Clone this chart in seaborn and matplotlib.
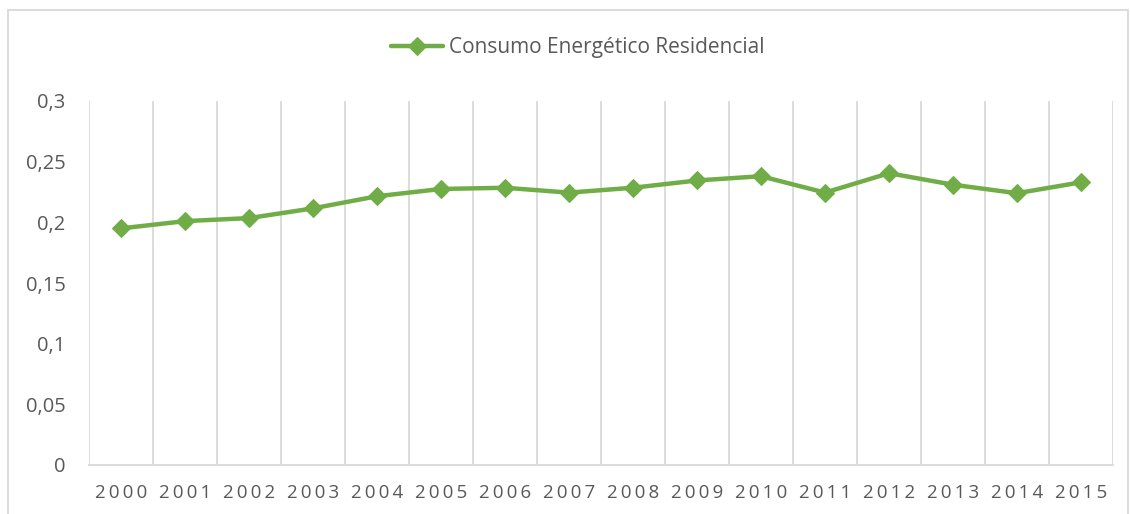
import matplotlib
matplotlib.use("Agg")
import matplotlib.pyplot as plt
from matplotlib.patches import Rectangle
from matplotlib.ticker import FixedLocator, FuncFormatter
import pandas as pd
import seaborn as sns

years = list(range(2000, 2016))
consumo = [0.195, 0.201, 0.2035, 0.2115, 0.2215, 0.2275, 0.2285, 0.2245,
           0.2285, 0.2345, 0.238, 0.2245, 0.2405, 0.231, 0.224, 0.233]
serie = "Consumo Energético Residencial"

df = pd.DataFrame({"Ano": years, "Valor": consumo})

sns.set_style("white")
plt.rcParams["font.family"] = ["Open Sans", "DejaVu Sans"]

verde = "#70AD47"
cinza_txt = "#595959"
cinza_lin = "#D9D9D9"

fig = plt.figure(figsize=(11.3, 5.14), dpi=100)
ax = fig.add_axes([89 / 1130, 1 - 465 / 514, 1024 / 1130, 364 / 514])

sns.lineplot(data=df, x="Ano", y="Valor", ax=ax, color=verde, linewidth=3.2,
             marker="D", markersize=9, markeredgecolor=verde, label=serie)

ax.set_xlim(years[0] - 0.5, years[-1] + 0.5)
ax.set_ylim(0, 0.3)
ax.set_xticks(years)
ax.set_xticklabels(["\u2009".join(str(y)) for y in years])
ax.xaxis.set_minor_locator(FixedLocator([y - 0.5 for y in years] + [years[-1] + 0.5]))
ax.grid(which="minor", axis="x", color=cinza_lin, linewidth=1.3)
ax.grid(which="major", axis="both", visible=False)
ax.set_yticks([0, 0.05, 0.1, 0.15, 0.2, 0.25, 0.3])
ax.yaxis.set_major_formatter(FuncFormatter(lambda v, p: f"{v:g}".replace(".", ",")))
ax.tick_params(axis="both", which="both", length=0, colors=cinza_txt)
ax.tick_params(axis="y", labelsize=14.5, pad=17)
ax.tick_params(axis="x", labelsize=13.5, pad=14)
ax.set_xlabel(None)
ax.set_ylabel(None)
for s in ["top", "right", "left"]:
    ax.spines[s].set_visible(False)
ax.spines["bottom"].set_color(cinza_lin)
ax.spines["bottom"].set_linewidth(1.3)

ax.legend(loc="center", bbox_to_anchor=(578 / 1130, 1 - 48 / 514), bbox_transform=fig.transFigure,
          frameon=False, fontsize=15, labelcolor=cinza_txt, handlelength=2.5,
          handletextpad=0.3)

fig.patches.append(Rectangle((8 / 1130, -0.01), 1120 / 1130, 1 - 10 / 514 + 0.01,
                             transform=fig.transFigure, fill=False,
                             edgecolor=cinza_lin, linewidth=1.3))

fig.savefig("out.png", dpi=100)
